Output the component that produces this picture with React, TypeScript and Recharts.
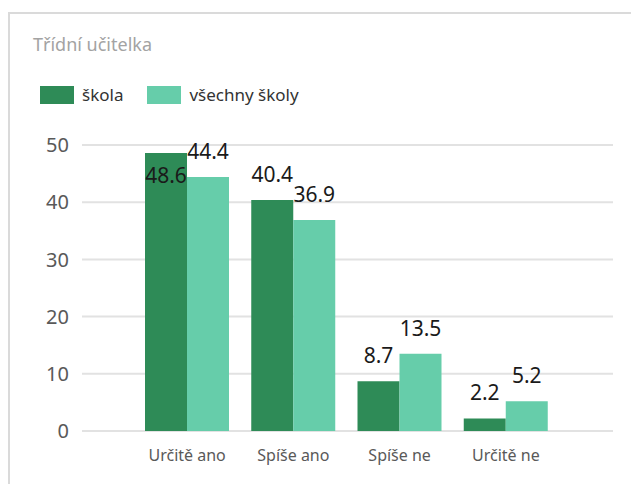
import React from 'react';
import { BarChart, Bar, XAxis, YAxis, CartesianGrid, LabelList } from 'recharts';

const categories = ['Určitě ano', 'Spíše ano', 'Spíše ne', 'Určitě ne'];
const skola = [48.6, 40.4, 8.7, 2.2];
const vsechnySkoly = [44.4, 36.9, 13.5, 5.2];
const yTicks = [0, 10, 20, 30, 40, 50];

const series = [
  { key: 'skola', name: 'škola', color: '#2e8b57' },
  { key: 'vsechny', name: 'všechny školy', color: '#66cdaa' },
];

const data = categories.map((name, i) => ({
  name,
  skola: skola[i],
  vsechny: vsechnySkoly[i],
}));

const FONT = '"Noto Sans", "Open Sans", sans-serif';
const PLOT_TOP = 145;

// labels go above the bar, unless that would leave the plot - then inside
const renderValue = (props: any) => {
  const { x, y, width, value } = props;
  let ty = y - 18;
  if (ty - 15 < PLOT_TOP - 2) ty = y + 30;
  return (
    <text x={x + width / 2} y={ty} textAnchor="middle" fontSize={21} fill="#1a1a1a" fontFamily={FONT}>
      {value}
    </text>
  );
};

const App = () => {
  return (
    <div style={{ position: 'absolute', left: 0, top: 0, width: 631, height: 484, background: '#fff', fontFamily: FONT }}>
      <div style={{ position: 'absolute', left: 8, top: 12, right: 0, bottom: 0, borderTop: '2px solid #dadada', borderLeft: '2px solid #dadada' }} />
      <div style={{ position: 'absolute', left: 33, top: 32, fontSize: 18, color: '#a3a3a3' }}>Třídní učitelka</div>
      <div style={{ position: 'absolute', left: 40, top: 83, display: 'flex', alignItems: 'center', fontSize: 17, color: '#333' }}>
        {series.map((s) => (
          <div key={s.key} style={{ display: 'flex', alignItems: 'center', marginRight: 24 }}>
            <div style={{ width: 34, height: 18, background: s.color, marginRight: 8 }} />
            <span>{s.name}</span>
          </div>
        ))}
      </div>
      <div style={{ position: 'absolute', left: 0, top: 0 }}>
        <BarChart
          width={631}
          height={484}
          data={data}
          margin={{ top: PLOT_TOP, right: 18, left: 0, bottom: 13 }}
          barGap={0}
          barSize={42}
        >
          <CartesianGrid vertical={false} stroke="#e2e2e2" strokeWidth={2} />
          <XAxis
            dataKey="name"
            axisLine={false}
            tickLine={false}
            tickSize={0}
            tickMargin={19}
            height={40}
            padding={{ left: 52, right: 54 }}
            tick={{ fontSize: 16, fill: '#595959', fontFamily: FONT }}
          />
          <YAxis
            domain={[0, 50]}
            ticks={yTicks}
            axisLine={false}
            tickLine={false}
            tickSize={0}
            tickMargin={13}
            width={82}
            tick={{ fontSize: 20, fill: '#595959', fontFamily: FONT }}
          />
          {series.map((s) => (
            <Bar key={s.key} dataKey={s.key} name={s.name} fill={s.color} isAnimationActive={false}>
              <LabelList dataKey={s.key} content={renderValue} />
            </Bar>
          ))}
        </BarChart>
      </div>
    </div>
  );
};

export default App;
